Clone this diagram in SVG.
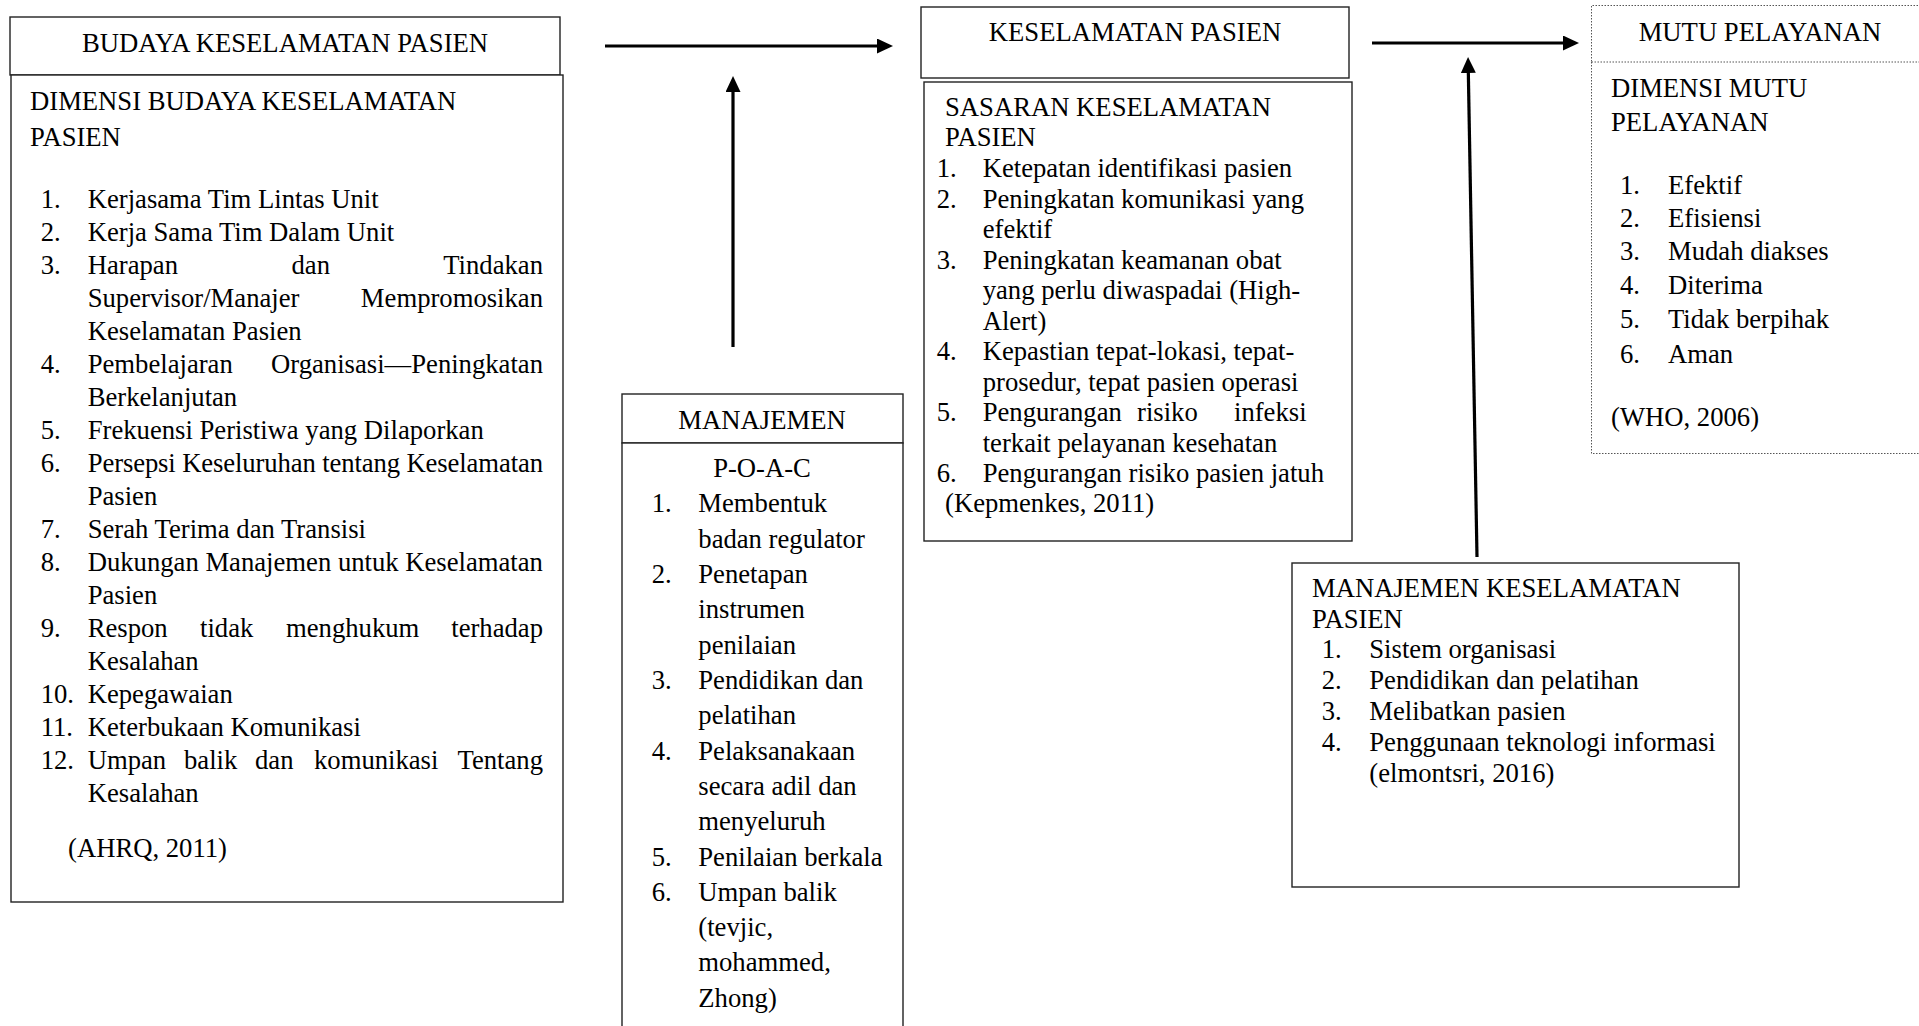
<svg xmlns="http://www.w3.org/2000/svg" width="1919" height="1026" viewBox="0 0 1919 1026">
<style>
.t{font-family:"Liberation Serif","Times New Roman",serif;font-size:26.67px;fill:#000}
.c{text-anchor:middle}
.e{text-anchor:end}
.box{fill:#fff;stroke:#222;stroke-width:1.4}
.dot{fill:none;stroke:#555;stroke-width:1;stroke-dasharray:1.5 1.5}
.arr{stroke:#000;stroke-width:3.2;fill:none;marker-end:url(#ah)}
</style>
<defs>
<marker id="ah" markerUnits="userSpaceOnUse" markerWidth="16" markerHeight="15" refX="2" refY="7.5" orient="auto">
<path d="M0,0 L16,7.5 L0,15 z" fill="#000"/>
</marker>
</defs>
<rect width="1919" height="1026" fill="#fff"/>

<g id="connectors">
<line class="arr" x1="605" y1="46" x2="879" y2="46"/>
<line class="arr" x1="733" y1="347" x2="733" y2="90"/>
<line class="arr" x1="1372" y1="43" x2="1565" y2="43"/>
<line class="arr" x1="1477" y1="557" x2="1468.3" y2="71"/>
</g>

<g id="budaya-header">
<rect class="box" x="10" y="17" width="550" height="58"/>
<text class="t c" x="285" y="52">BUDAYA KESELAMATAN PASIEN</text>
</g>

<g id="budaya-body">
<rect class="box" x="11" y="75" width="552" height="827"/>
<text class="t" x="30" y="110">DIMENSI BUDAYA KESELAMATAN</text>
<text class="t" x="30" y="145.5">PASIEN</text>
<g class="t">
<text x="40.7" y="207.5">1.</text><text x="87.7" y="207.5">Kerjasama Tim Lintas Unit</text>
<text x="40.7" y="240.6">2.</text><text x="87.7" y="240.6">Kerja Sama Tim Dalam Unit</text>
<text x="40.7" y="273.6">3.</text><text x="87.7" y="273.6">Harapan</text><text x="291.5" y="273.6">dan</text><text class="e" x="543" y="273.6">Tindakan</text>
<text x="87.7" y="306.7">Supervisor/Manajer</text><text class="e" x="543" y="306.7">Mempromosikan</text>
<text x="87.7" y="339.7">Keselamatan Pasien</text>
<text x="40.7" y="372.8">4.</text><text x="87.7" y="372.8">Pembelajaran</text><text class="e" x="543" y="372.8">Organisasi—Peningkatan</text>
<text x="87.7" y="405.8">Berkelanjutan</text>
<text x="40.7" y="438.9">5.</text><text x="87.7" y="438.9">Frekuensi Peristiwa yang Dilaporkan</text>
<text x="40.7" y="471.9">6.</text><text x="87.7" y="471.9" textLength="455.3" lengthAdjust="spacing">Persepsi Keseluruhan tentang Keselamatan</text>
<text x="87.7" y="505">Pasien</text>
<text x="40.7" y="538">7.</text><text x="87.7" y="538">Serah Terima dan Transisi</text>
<text x="40.7" y="571.1">8.</text><text x="87.7" y="571.1">Dukungan Manajemen untuk Keselamatan</text>
<text x="87.7" y="604.1">Pasien</text>
<text x="40.7" y="637.2">9.</text><text x="87.7" y="637.2">Respon</text><text x="200" y="637.2">tidak</text><text x="286" y="637.2">menghukum</text><text class="e" x="543" y="637.2">terhadap</text>
<text x="87.7" y="670.2">Kesalahan</text>
<text x="40.7" y="703.3">10.</text><text x="87.7" y="703.3">Kepegawaian</text>
<text x="40.7" y="736.3">11.</text><text x="87.7" y="736.3">Keterbukaan Komunikasi</text>
<text x="40.7" y="769.4">12.</text><text x="87.7" y="769.4">Umpan</text><text x="184" y="769.4">balik</text><text x="255" y="769.4">dan</text><text x="314" y="769.4">komunikasi</text><text class="e" x="543" y="769.4">Tentang</text>
<text x="87.7" y="802.4">Kesalahan</text>
<text x="68" y="857">(AHRQ, 2011)</text>
</g>
</g>

<g id="keselamatan-header">
<rect class="box" x="921" y="7" width="428" height="71"/>
<text class="t c" x="1135" y="41">KESELAMATAN PASIEN</text>
</g>

<g id="keselamatan-body">
<rect class="box" x="924" y="82" width="428" height="459"/>
<g class="t">
<text x="945" y="116">SASARAN KESELAMATAN</text>
<text x="945" y="146">PASIEN</text>
<text x="936.7" y="177">1.</text><text x="982.7" y="177">Ketepatan identifikasi pasien</text>
<text x="936.7" y="207.5">2.</text><text x="982.7" y="207.5">Peningkatan komunikasi yang</text>
<text x="982.7" y="238">efektif</text>
<text x="936.7" y="268.5">3.</text><text x="982.7" y="268.5">Peningkatan keamanan obat</text>
<text x="982.7" y="299">yang perlu diwaspadai (High-</text>
<text x="982.7" y="329.5">Alert)</text>
<text x="936.7" y="360">4.</text><text x="982.7" y="360">Kepastian tepat-lokasi, tepat-</text>
<text x="982.7" y="390.5">prosedur, tepat pasien operasi</text>
<text x="936.7" y="421">5.</text><text x="982.7" y="421">Pengurangan</text><text x="1137" y="421">risiko</text><text x="1234" y="421">infeksi</text>
<text x="982.7" y="451.5">terkait pelayanan kesehatan</text>
<text x="936.7" y="482">6.</text><text x="982.7" y="482">Pengurangan risiko pasien jatuh</text>
<text x="945" y="512">(Kepmenkes, 2011)</text>
</g>
</g>

<g id="manajemen-header">
<rect class="box" x="622" y="394" width="281" height="49"/>
<text class="t c" x="762" y="429">MANAJEMEN</text>
</g>

<g id="manajemen-body">
<rect class="box" x="622" y="443" width="281" height="600"/>
<g class="t">
<text class="c" x="762" y="477">P-O-A-C</text>
<text x="651.7" y="512">1.</text><text x="698.3" y="512">Membentuk</text>
<text x="698.3" y="547.5">badan regulator</text>
<text x="651.7" y="583">2.</text><text x="698.3" y="583">Penetapan</text>
<text x="698.3" y="618">instrumen</text>
<text x="698.3" y="653.5">penilaian</text>
<text x="651.7" y="689">3.</text><text x="698.3" y="689">Pendidikan dan</text>
<text x="698.3" y="724">pelatihan</text>
<text x="651.7" y="759.5">4.</text><text x="698.3" y="759.5">Pelaksanakaan</text>
<text x="698.3" y="795">secara adil dan</text>
<text x="698.3" y="830">menyeluruh</text>
<text x="651.7" y="865.5">5.</text><text x="698.3" y="865.5">Penilaian berkala</text>
<text x="651.7" y="901">6.</text><text x="698.3" y="901">Umpan balik</text>
<text x="698.3" y="936">(tevjic,</text>
<text x="698.3" y="971">mohammed,</text>
<text x="698.3" y="1006.5">Zhong)</text>
</g>
</g>

<g id="mutu-header">
<path class="dot" d="M1930,5.5 H1591.5 V62 M1591.5,62 H1930"/>
<text class="t c" x="1760" y="41">MUTU PELAYANAN</text>
</g>

<g id="mutu-body">
<path class="dot" d="M1591.5,62 V453.5 H1930"/>
<g class="t">
<text x="1611" y="97">DIMENSI MUTU</text>
<text x="1611" y="131">PELAYANAN</text>
<text x="1620" y="194">1.</text><text x="1668" y="194">Efektif</text>
<text x="1620" y="227">2.</text><text x="1668" y="227">Efisiensi</text>
<text x="1620" y="260">3.</text><text x="1668" y="260">Mudah diakses</text>
<text x="1620" y="294">4.</text><text x="1668" y="294">Diterima</text>
<text x="1620" y="328">5.</text><text x="1668" y="328">Tidak berpihak</text>
<text x="1620" y="363">6.</text><text x="1668" y="363">Aman</text>
<text x="1611" y="426">(WHO, 2006)</text>
</g>
</g>

<g id="manajemen-keselamatan">
<rect class="box" x="1292" y="563" width="447" height="324"/>
<g class="t">
<text x="1312" y="597">MANAJEMEN KESELAMATAN</text>
<text x="1312" y="628">PASIEN</text>
<text x="1321.7" y="658">1.</text><text x="1369.3" y="658">Sistem organisasi</text>
<text x="1321.7" y="689">2.</text><text x="1369.3" y="689">Pendidikan dan pelatihan</text>
<text x="1321.7" y="720">3.</text><text x="1369.3" y="720">Melibatkan pasien</text>
<text x="1321.7" y="751">4.</text><text x="1369.3" y="751">Penggunaan teknologi informasi</text>
<text x="1369.3" y="782">(elmontsri, 2016)</text>
</g>
</g>
</svg>
